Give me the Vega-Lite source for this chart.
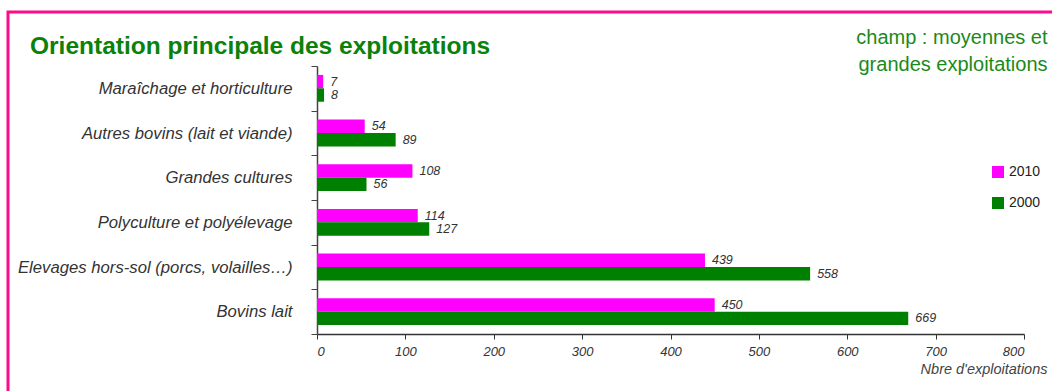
{
  "$schema": "https://vega.github.io/schema/vega-lite/v6.json",
  "width": 1060,
  "height": 400,
  "autosize": {"type": "none"},
  "padding": {"left": 8, "top": 12, "right": 0, "bottom": 0},
  "background": "white",
  "title": {
    "text": "Orientation principale des exploitations",
    "anchor": "start",
    "frame": "group",
    "orient": "top",
    "offset": 0,
    "dx": 22,
    "dy": 74,
    "baseline": "alphabetic",
    "font": "Liberation Sans",
    "fontSize": 24.5,
    "fontWeight": "bold",
    "color": "#0a820a"
  },
  "config": {
    "view": {"stroke": "#ff0a8c", "strokeWidth": 3},
    "axis": {"grid": false}
  },
  "data": {
    "values": [
      {"orientation": "Maraîchage et horticulture", "annee": "2010", "n": 7},
      {"orientation": "Maraîchage et horticulture", "annee": "2000", "n": 8},
      {"orientation": "Autres bovins (lait et viande)", "annee": "2010", "n": 54},
      {"orientation": "Autres bovins (lait et viande)", "annee": "2000", "n": 89},
      {"orientation": "Grandes cultures", "annee": "2010", "n": 108},
      {"orientation": "Grandes cultures", "annee": "2000", "n": 56},
      {"orientation": "Polyculture et polyélevage", "annee": "2010", "n": 114},
      {"orientation": "Polyculture et polyélevage", "annee": "2000", "n": 127},
      {"orientation": "Elevages hors-sol (porcs, volailles…)", "annee": "2010", "n": 439},
      {"orientation": "Elevages hors-sol (porcs, volailles…)", "annee": "2000", "n": 558},
      {"orientation": "Bovins lait", "annee": "2010", "n": 450},
      {"orientation": "Bovins lait", "annee": "2000", "n": 669}
    ]
  },
  "encoding": {
    "y": {
      "field": "orientation",
      "type": "nominal",
      "sort": ["Maraîchage et horticulture", "Autres bovins (lait et viande)", "Grandes cultures", "Polyculture et polyélevage", "Elevages hors-sol (porcs, volailles…)", "Bovins lait"],
      "scale": {"range": [54, 322], "paddingInner": 0, "paddingOuter": 0},
      "axis": {
        "offset": -309,
        "tickBand": "extent",
        "tickSize": 6,
        "tickColor": "#444",
        "domainColor": "#444",
        "domainWidth": 1.5,
        "labelFont": "Liberation Sans",
        "labelFontSize": 16.7,
        "labelFontStyle": "italic",
        "labelColor": "#333",
        "labelPadding": 19,
        "labelLimit": 400,
        "title": ["champ : moyennes et", "grandes exploitations"],
        "titleAngle": 0,
        "titleX": 730,
        "titleY": 31,
        "titleAlign": "right",
        "titleBaseline": "alphabetic",
        "titleFont": "Liberation Sans",
        "titleFontSize": 20,
        "titleFontWeight": "normal",
        "titleColor": "#1a8a1a",
        "titleLineHeight": 27
      }
    },
    "yOffset": {
      "field": "annee",
      "type": "nominal",
      "sort": ["2010", "2000"],
      "scale": {"domain": ["2010", "2000"], "paddingInner": 0, "paddingOuter": 0.667}
    },
    "x": {
      "field": "n",
      "type": "quantitative",
      "scale": {"domain": [0, 800], "range": [309, 1016], "nice": false},
      "axis": {
        "offset": -78,
        "values": [0, 100, 200, 300, 400, 500, 600, 700, 800],
        "tickSize": 5,
        "tickColor": "#333",
        "domainColor": "#333",
        "domainWidth": 1.5,
        "labelFont": "Liberation Sans",
        "labelFontSize": 13,
        "labelFontStyle": "italic",
        "labelColor": "#333",
        "labelPadding": 6,
        "title": "Nbre d'exploitations",
        "titleX": 1039,
        "titleY": 39,
        "titleAlign": "right",
        "titleBaseline": "alphabetic",
        "titleFont": "Liberation Sans",
        "titleFontSize": 14.5,
        "titleFontStyle": "italic",
        "titleFontWeight": "normal",
        "titleColor": "#444"
      }
    }
  },
  "layer": [
    {
      "mark": {"type": "bar"},
      "encoding": {
        "color": {
          "field": "annee",
          "type": "nominal",
          "scale": {"domain": ["2010", "2000"], "range": ["#ff00ff", "#008000"]},
          "legend": {
            "orient": "none",
            "direction": "vertical",
            "legendX": 983,
            "legendY": 153,
            "title": null,
            "symbolType": "square",
            "symbolSize": 144,
            "symbolStrokeWidth": 0,
            "labelFont": "Liberation Sans",
            "labelFontSize": 14,
            "labelColor": "#222",
            "labelOffset": 4,
            "rowPadding": 17
          }
        }
      }
    },
    {
      "mark": {
        "type": "text",
        "align": "left",
        "baseline": "middle",
        "dx": 7,
        "font": "Liberation Sans",
        "fontSize": 12.5,
        "fontStyle": "italic",
        "color": "#333"
      },
      "encoding": {"text": {"field": "n", "type": "quantitative"}}
    }
  ]
}
